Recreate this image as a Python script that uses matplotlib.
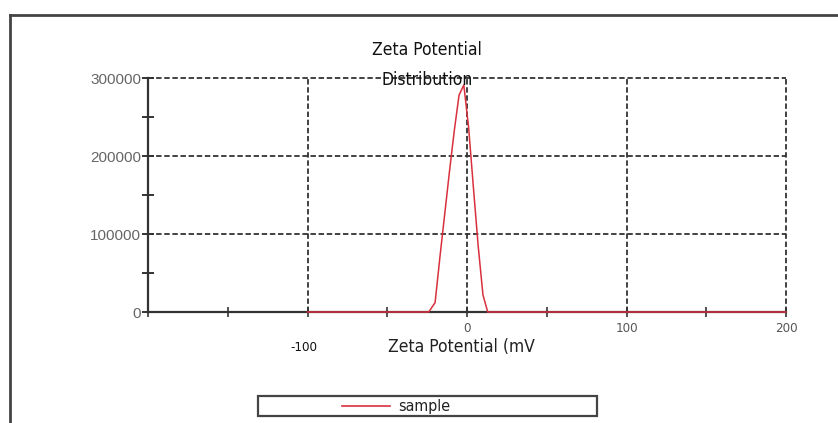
import matplotlib
matplotlib.use("Agg")
import matplotlib.pyplot as plt
from matplotlib.patches import Rectangle
from matplotlib.lines import Line2D
from matplotlib.transforms import ScaledTranslation

# ---- data ----
zeta_mv = [-100, -24, -20, -17, -14, -11, -8, -5, -2, 1, 4, 7, 10, 13, 200]
counts = [0, 0, 12000, 70000, 125000, 180000, 232000, 278000, 291000, 237000, 160000, 85000, 22000, 0, 0]
series_name = "sample"
x_major = [-200, -150, -100, -50, 0, 50, 100, 150, 200]
x_labels = ["", "", "-100", "", "0", "", "100", "", "200"]
x_grid = [-100, 0, 100, 200]
y_major = [0, 50000, 100000, 150000, 200000, 250000, 300000]
y_labels = ["0", "", "100000", "", "200000", "", "300000"]
y_grid = [100000, 200000, 300000]
title_lines = ["Zeta Potential", "Distribution"]
xlabel = "Zeta Potential (mV"

W, H = 838, 423
fig = plt.figure(figsize=(W / 100, H / 100), dpi=100)
regular = ["Liberation Sans", "DejaVu Sans"]
NARROW = dict(family=["DejaVu Sans"], stretch="condensed")

def fx(px):
    return px / W

def fy(py):
    return 1 - py / H

# outer frame (cut at right/bottom)
fig.add_artist(Line2D([fx(10), fx(10)], [fy(15), 0], color="#444444", lw=2))
fig.add_artist(Line2D([fx(10), 1], [fy(15), fy(15)], color="#444444", lw=2))

ax = fig.add_axes([fx(148), fy(312), fx(786) - fx(148), (312 - 78) / H])
ax.set_xlim(-200, 200)
ax.set_ylim(0, 300000)

for xv in x_grid:
    ax.axvline(xv, color="#333333", lw=1.3, ls=(0, (3, 1.5)), zorder=1, clip_on=False)
for yv in y_grid:
    ax.axhline(yv, color="#333333", lw=1.3, ls=(0, (3, 1.5)), zorder=1, clip_on=False)

ax.plot(zeta_mv, counts, color="#d9303e", lw=1.1, zorder=4, label=series_name, clip_on=False)

for s in ["top", "right"]:
    ax.spines[s].set_visible(False)
for s in ["left", "bottom"]:
    ax.spines[s].set_color("#333333")
    ax.spines[s].set_linewidth(1.6)
    ax.spines[s].set_zorder(2)

ax.set_xticks(x_major)
ax.set_xticklabels(x_labels, fontsize=9.5, color="#555555", **NARROW)
ax.set_yticks(y_major)
ax.set_yticklabels(y_labels, fontfamily=regular, fontsize=11, color="#666666")
ax.tick_params(axis="x", direction="inout", length=7, width=1.2, color="#333333", pad=4)
ax.tick_params(axis="y", direction="inout", length=8, width=1.4, color="#333333", pad=1)
for lab in ax.get_xticklabels():
    if lab.get_text() == "-100":
        lab.set_transform(lab.get_transform() + ScaledTranslation(-4 / 100, -19 / 100, fig.dpi_scale_trans))
        lab.set_color("#111111")

fig.text(fx(427), fy(50), title_lines[0], fontsize=12.5, color="#111111", ha="center", va="center", **NARROW)
fig.text(fx(427), fy(80), title_lines[1], fontsize=12.5, color="#111111", ha="center", va="center", zorder=5, **NARROW)
fig.text(fx(461), fy(347), xlabel, fontsize=12.5, color="#222222", ha="center", va="center", **NARROW)

# legend box
fig.add_artist(Rectangle((fx(258), fy(416)), fx(597) - fx(258), (416 - 396) / H,
                         fill=False, edgecolor="#444444", lw=1.6, transform=fig.transFigure))
fig.add_artist(Line2D([fx(342), fx(390)], [fy(406), fy(406)], color="#d9303e", lw=1.2))
fig.text(fx(398), fy(406), series_name, fontsize=11.5, color="#222222",
         va="center", ha="left", **NARROW)

fig.savefig("out.png", dpi=100)
